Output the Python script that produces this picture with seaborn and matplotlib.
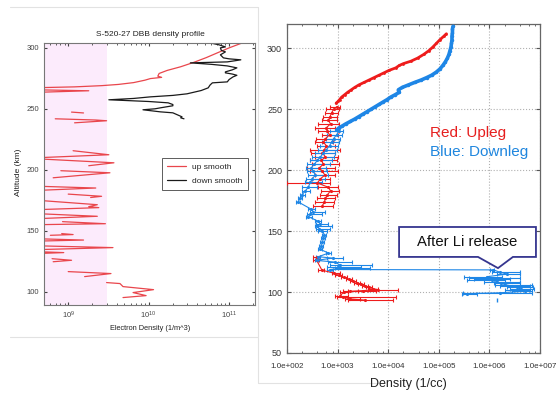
import numpy as np
import pandas as pd
import matplotlib
matplotlib.use("Agg")
import matplotlib.pyplot as plt
import seaborn as sns
from matplotlib.patches import Polygon
from matplotlib.lines import Line2D
from matplotlib.ticker import FixedLocator, FixedFormatter, LogLocator, NullFormatter

nan = np.nan

# -----------------------------
# LEFT PANEL DATA (electron density, 1/m^3)
# -----------------------------
up_alt = [306.0, 304.0, 300.0, 296.0, 292.0, 288.0, 284.5, 281.5, 279.0, 276.8,
          275.8, 274.8, 273.5, 271.5, 270.0, 269.0, 268.0, 267.3, 265.6, 264.8,
          263.5, nan,
          247.3, 246.6, nan,
          241.8, 240.8, 240.2, 238.5, nan,
          215.6, 212.3, 209.8, 209.0, 205.7, 203.3, nan,
          199.2, 197.5, 193.4, nan,
          186.5, 185.0, 183.0, nan,
          180.0, 178.2, 177.2, nan,
          175.0, 171.3, 169.7, 168.9, 167.2, 164.0, 161.8, 159.8, nan,
          157.4, 155.7, 154.9, nan,
          147.6, 146.8, 146.2, nan,
          143.4, 142.3, 141.4, 137.6, 136.1, 134.4, 132.8, 132.0, 131.2, nan,
          127.0, 125.7, 124.5, nan,
          116.4, 114.8, 112.3, nan,
          107.4, 106.6, 104.1, 101.6, 99.2, 96.7, 95.1]
up_dens = [1.9e11, 1.45e11, 1.0e11, 7.2e10, 5.2e10, 3.6e10, 2.5e10, 1.7e10, 1.35e10, 1.3e10,
           1.45e10, 1.05e10, 9.0e9, 6.5e9, 4.2e9, 2.6e9, 1.2e9, 4.0e8, 4.0e8, 1.8e9,
           4.0e8, nan,
           1.1e9, 1.55e9, nan,
           6.9e8, 2.2e9, 3.0e9, 1.2e9, nan,
           1.15e9, 3.2e9, 4.0e8, 4.0e8, 3.7e9, 1.8e9, nan,
           8.1e8, 3.3e9, 6.5e8, nan,
           4.0e8, 2.2e9, 4.0e8, nan,
           1.0e9, 2.6e9, 1.9e9, nan,
           4.0e8, 2.3e9, 1.8e9, 2.4e9, 4.0e8, 4.0e8, 2.3e9, 4.0e8, nan,
           8.5e8, 2.9e9, 4.0e8, nan,
           8.3e8, 1.15e9, 6.0e8, nan,
           4.0e8, 1.55e9, 4.0e8, 4.0e8, 3.6e9, 4.0e8, 4.0e8, 8.8e8, 4.0e8, nan,
           6.3e8, 1.1e9, 6.5e8, nan,
           1.0e9, 3.4e9, 1.6e9, nan,
           3.0e9, 4.4e9, 4.8e9, 1.15e10, 6.4e9, 9.3e9, 4.8e9]

down_alt = [241.8, 242.6, 243.4, 245.5, 246.7, 247.5, 249.2, 250.0, 250.8, 252.5,
            253.5, 254.9, 256.0, 257.4, 258.5, 259.8, 261.0, 262.3, 265.0, 267.2,
            269.5, 271.3, 272.1, 274.0, 276.2, 277.5, 278.5, 279.5, 280.3, 282.0,
            283.6, 285.2, 286.5, 287.7, 288.5, 289.5, 290.2, 291.0, 291.8, 294.3,
            296.7, 298.0, 300.0, 300.8, 302.5, 304.1, 305.0]
down_dens = [2.75e10, 2.5e10, 2.6e10, 2.2e10, 2.0e10, 1.4e10, 8.5e9, 1.2e10, 1.4e10, 2.0e10,
             2.0e10, 1.75e10, 1.0e10, 3.2e9, 6.5e9, 1.05e10, 2.0e10, 3.0e10, 4.5e10, 5.5e10,
             5.8e10, 6.2e10, 9.5e10, 1.0e11, 1.12e11, 1.25e11, 1.1e11, 9.0e10, 9.0e10, 1.1e11,
             1.25e11, 9.5e10, 6.0e10, 3.3e10, 9.5e10, 1.2e11, 1.4e11, 1.0e11, 8.5e10, 7.8e10,
             9.0e10, 8.0e10, 7.8e10, 9.0e10, 7.5e10, 5.8e10, 5.5e10]

shade_edge = 3.0e9

# -----------------------------
# RIGHT PANEL DATA (log10 density, 1/cc)
# -----------------------------
# upleg, dense upper part
up_top_alt = [312, 310, 307, 304, 301, 298, 295, 292, 289.5, 287.5, 286, 284, 282, 280,
              278, 276, 274, 272, 270, 268, 266, 264, 262, 260, 258, 256.5, 255]
up_top_log = [5.15, 5.10, 5.02, 4.95, 4.88, 4.80, 4.70, 4.58, 4.45, 4.30, 4.22, 4.15, 4.02, 3.92,
              3.82, 3.72, 3.62, 3.52, 3.42, 3.34, 3.27, 3.20, 3.14, 3.08, 3.04, 3.01, 2.97]
# upleg, points with error bars (alt, log, low, high)
up_mid_alt = [252, 250, 247, 244, 241, 238, 235, 232, 229, 226, 223, 220, 217, 214, 211, 208,
              205, 202, 199, 196, 193, 189.5, 186, 183, 180, 177, 174, 171]
up_mid_log = [2.98, 2.92, 2.88, 2.85, 2.82, 2.86, 2.78, 2.80, 2.84, 2.76, 2.72, 2.78, 2.74, 2.70,
              2.76, 2.68, 2.72, 2.64, 2.70, 2.75, 2.66, 2.60, 2.82, 2.86, 2.80, 2.76, 2.74, 2.70]
up_mid_lo = [2.85, 2.78, 2.75, 2.72, 2.70, 2.62, 2.55, 2.62, 2.70, 2.58, 2.55, 2.60, 2.45, 2.48,
             2.55, 2.45, 2.50, 2.40, 2.45, 2.55, 2.50, 2.00, 2.62, 2.68, 2.65, 2.60, 2.55, 2.52]
up_mid_hi = [3.05, 3.02, 3.00, 2.98, 2.98, 3.02, 2.95, 3.02, 3.00, 2.92, 2.90, 2.95, 3.05, 2.95,
             3.00, 2.98, 3.02, 2.95, 3.00, 2.95, 2.85, 2.85, 3.00, 3.02, 2.98, 2.95, 2.92, 2.90]
up_low_alt = [128.5, 126.5, 118, 115.6, 113.8, 112.0, 110.6, 109.2, 107.8, 106.4, 105.0, 103.8,
              102.8, 102.0, 101.2, 100.6, 100.0, 97.0, 95.8, 94.4, 93.4]
up_low_log = [2.60, 2.58, 2.69, 2.92, 3.02, 3.12, 3.22, 3.30, 3.38, 3.46, 3.54, 3.62,
              3.70, 3.80, 3.50, 3.25, 3.12, 3.05, 3.10, 3.25, 3.55]
up_low_lo = [2.52, 2.52, 2.62, 2.88, 2.95, 3.06, 3.16, 3.24, 3.32, 3.40, 3.48, 3.56,
             3.60, 3.60, 3.20, 3.10, 3.05, 2.95, 2.98, 3.15, 3.20]
up_low_hi = [2.66, 2.64, 2.74, 3.05, 3.08, 3.18, 3.28, 3.36, 3.44, 3.52, 3.60, 3.68,
             3.80, 4.20, 3.75, 3.40, 3.20, 3.20, 4.15, 3.45, 4.10]

# downleg, dense upper part
dn_top_alt = [318, 316, 313, 310, 307, 304, 301, 298, 295, 292, 289, 286, 283, 280.5, 278, 276,
              274, 272, 270, 268, 266, 264, 262, 260, 258, 256, 254, 252, 250, 248, 246, 244,
              242, 240, 238, 236, 234.5, 233]
dn_top_log = [5.28, 5.27, 5.27, 5.26, 5.26, 5.25, 5.24, 5.22, 5.20, 5.17, 5.13, 5.08, 5.02, 4.95,
              4.86, 4.76, 4.65, 4.52, 4.40, 4.28, 4.20, 4.22, 4.14, 4.05, 3.98, 3.90, 3.82, 3.74,
              3.66, 3.58, 3.50, 3.42, 3.34, 3.25, 3.16, 3.08, 3.02, 2.98]
# downleg, points with error bars
dn_err_alt = [232, 229, 226, 223, 220, 217, 214, 211, 208, 205, 202, 199, 196, 193, 190, 186,
              183, 180, 177, 174, 168, 166, 164, 162, 158, 156, 154, 152, 150, 147, 144, 141,
              138, 135, 132, 129, 127.9, 126, 124.6, 122.1, 120.5, 119.7, 118.5,
              118.2, 116.4, 114.8, 112.6, 111.6, 110.6, 109.6, 108.6, 107.4, 106.2, 104.8,
              103.8, 102.6, 101.6, 100.6, 99.4, 98.8]
dn_err_log = [3.02, 2.98, 2.92, 2.88, 2.84, 2.78, 2.72, 2.66, 2.60, 2.54, 2.48, 2.52, 2.56, 2.50,
              2.46, 2.42, 2.36, 2.30, 2.26, 2.22, 2.48, 2.52, 2.46, 2.42, 2.62, 2.66, 2.60, 2.64,
              2.70, 2.74, 2.72, 2.70, 2.68, 2.66, 2.82, 2.62, 2.90, 2.58, 2.95, 3.05, 3.00, 3.10,
              2.85,
              6.08, 6.20, 6.35, 5.95, 6.02, 6.10, 6.05, 6.15, 6.22, 6.30, 6.45, 6.55, 6.62, 6.50,
              6.70, 6.20, 5.55]
dn_err_lo = [2.85, 2.80, 2.78, 2.70, 2.66, 2.62, 2.55, 2.50, 2.45, 2.40, 2.38, 2.40, 2.42, 2.38,
             2.35, 2.30, 2.30, 2.26, 2.22, 2.18, 2.42, 2.45, 2.40, 2.38, 2.56, 2.58, 2.55, 2.58,
             2.62, 2.70, 2.68, 2.66, 2.64, 2.62, 2.78, 2.58, 2.79, 2.55, 2.81, 2.85, 2.79, 2.95,
             2.80,
             6.02, 6.05, 6.15, 5.50, 5.60, 5.70, 5.55, 5.90, 6.10, 6.12, 6.20, 6.35, 6.40, 6.30,
             6.45, 5.48, 5.45]
dn_err_hi = [3.10, 3.08, 3.05, 3.02, 3.00, 2.98, 2.95, 2.92, 2.88, 2.85, 2.78, 2.80, 2.82, 2.75,
             2.70, 2.60, 2.45, 2.36, 2.30, 2.26, 2.55, 2.75, 2.70, 2.50, 2.68, 2.82, 2.88, 2.84,
             2.80, 2.78, 2.76, 2.74, 2.72, 2.70, 2.86, 2.66, 3.11, 2.62, 3.28, 3.68, 3.46, 3.64,
             2.90,
             6.10, 6.60, 6.60, 6.25, 6.60, 6.40, 6.30, 6.60, 6.60, 6.85, 6.80, 6.86, 6.88, 6.80,
             6.85, 6.84, 5.75]
# downleg, lone lowest point
dn_lone_alt = [93.4]
dn_lone_log = [6.15]

right_xticks = [1e2, 1e3, 1e4, 1e5, 1e6, 1e7]
right_xticklabels = ["1.0e+002", "1.0e+003", "1.0e+004", "1.0e+005", "1.0e+006", "1.0e+007"]
right_yticks = [50, 100, 150, 200, 250, 300]

# -----------------------------
# STYLE
# -----------------------------
sns.set_style("ticks")
plt.rcParams["font.family"] = ["Liberation Sans", "DejaVu Sans"]

RED_L = "#e9464c"
RED = "#ee1c1c"
BLUE = "#1e86e6"

fig = plt.figure(figsize=(5.58, 3.93), dpi=100)
axL = fig.add_axes([44 / 558, 1 - 305 / 393, 211 / 558, 262 / 393])
axR = fig.add_axes([287 / 558, 1 - 353 / 393, 253 / 558, 329 / 393])

# -----------------------------
# LEFT PANEL
# -----------------------------
axL.set_xscale("log")
axL.set_xlim(5e8, 2.1e11)
axL.set_ylim(89, 304)
axL.axvspan(5e8, shade_edge, color="#fcebfc", lw=0, zorder=0)

df_up = pd.DataFrame({"alt": up_alt, "dens": up_dens})
df_up["seg"] = df_up["dens"].isna().cumsum()
df_up = df_up.dropna()
sns.lineplot(data=df_up, x="dens", y="alt", units="seg", estimator=None, sort=False,
             color=RED_L, lw=0.9, ax=axL)

df_dn = pd.DataFrame({"alt": down_alt, "dens": down_dens})
sns.lineplot(data=df_dn, x="dens", y="alt", estimator=None, sort=False,
             color="#1a1a1a", lw=0.9, ax=axL)

axL.set_yticks([100, 150, 200, 250, 300])
axL.tick_params(which="both", direction="in", top=True, right=True, labelsize=5.5,
                colors="#444", length=2.5)
axL.tick_params(which="minor", length=1.5)
axL.set_xlabel("")
axL.set_ylabel("")
for s in axL.spines.values():
    s.set_color("#777")
    s.set_linewidth(0.8)

handles = [Line2D([], [], color=RED_L, lw=0.9), Line2D([], [], color="#1a1a1a", lw=0.9)]
leg = axL.legend(handles, ["up smooth", "down smooth"], loc="center right",
                 bbox_to_anchor=(0.985, 0.5), fontsize=6, frameon=True, fancybox=False,
                 handlelength=2.2, borderpad=0.6, labelspacing=0.8)
leg.get_frame().set_edgecolor("#333")
leg.get_frame().set_linewidth(0.7)

fig.text(150 / 558, 1 - 34 / 393, "S-520-27 DBB density profile", ha="center", va="center",
         fontsize=6, color="#222")
fig.text(150 / 558, 1 - 328 / 393, "Electron Density (1/m^3)", ha="center", va="center",
         fontsize=5.3, color="#222")
fig.text(19 / 558, 1 - 172 / 393, "Altitude (km)", ha="center", va="center",
         rotation=90, fontsize=6, color="#222")

# -----------------------------
# RIGHT PANEL
# -----------------------------
axR.set_xscale("log")
axR.set_xlim(1e2, 1e7)
axR.set_ylim(50, 320)
axR.grid(True, which="major", ls=":", color="#b0b0b0", lw=0.8)


def errbar(ax, alt, lg, lo, hi, color, lw=0.8):
    x = 10 ** np.array(lg)
    xerr = [x - 10 ** np.array(lo), 10 ** np.array(hi) - x]
    ax.errorbar(x, alt, xerr=xerr, fmt="-", marker=".", ms=2.5, color=color, lw=lw,
                elinewidth=0.8, capsize=1.5, capthick=0.8, zorder=3)


sns.lineplot(x=10 ** np.array(up_top_log), y=up_top_alt, sort=False, estimator=None,
             color=RED, lw=2.0, marker=".", ms=4, mew=0, ax=axR, zorder=4)
errbar(axR, up_mid_alt, up_mid_log, up_mid_lo, up_mid_hi, RED)
errbar(axR, up_low_alt, up_low_log, up_low_lo, up_low_hi, RED)

sns.lineplot(x=10 ** np.array(dn_top_log), y=dn_top_alt, sort=False, estimator=None,
             color=BLUE, lw=2.6, marker=".", ms=5, mew=0, ax=axR, zorder=3)
errbar(axR, dn_err_alt, dn_err_log, dn_err_lo, dn_err_hi, BLUE)
sns.scatterplot(x=10 ** np.array(dn_lone_log), y=dn_lone_alt, color=BLUE, marker="|",
                s=12, linewidth=1, ax=axR)

axR.xaxis.set_major_locator(FixedLocator(right_xticks))
axR.xaxis.set_major_formatter(FixedFormatter(right_xticklabels))
axR.xaxis.set_minor_locator(LogLocator(base=10, subs=(2, 4, 6, 8), numticks=20))
axR.xaxis.set_minor_formatter(NullFormatter())
axR.set_yticks(right_yticks)
axR.tick_params(which="both", direction="in", top=True, right=True, colors="#555", length=3)
axR.tick_params(which="minor", length=1.5)
axR.tick_params(axis="x", labelsize=5.8, labelcolor="#333", pad=7)
axR.tick_params(axis="y", labelsize=6.5, labelcolor="#333")
for s in axR.spines.values():
    s.set_color("#666")
    s.set_linewidth(0.9)

fig.text(430 / 558, 1 - 133 / 393, "Red: Upleg", color="#e61e1e", fontsize=11,
         ha="left", va="center")
fig.text(430 / 558, 1 - 152 / 393, "Blue: Downleg", color="#1f86de", fontsize=11,
         ha="left", va="center")

# callout box
callout = [(0.443, 0.383), (0.984, 0.383), (0.984, 0.292), (0.893, 0.292), (0.834, 0.258),
           (0.755, 0.292), (0.443, 0.292)]
axR.add_patch(Polygon(callout, closed=True, transform=axR.transAxes, facecolor="white",
                      edgecolor="#35358f", lw=1.3, zorder=6))
axR.text(0.71, 0.338, "After Li release", transform=axR.transAxes, ha="center",
         va="center", fontsize=10.7, color="#111", zorder=7)

fig.text(408 / 558, 1 - 384 / 393, "Density (1/cc)", ha="center", va="center",
         fontsize=9, color="#222")

# faint frame lines from the pasted images
for (x0, y0, x1, y1) in [(10, 7, 258, 7), (10, 337, 258, 337), (258, 7, 258, 383),
                         (258, 383, 380, 383)]:
    fig.add_artist(Line2D([x0 / 558, x1 / 558], [1 - y0 / 393, 1 - y1 / 393],
                          color="#e2e2e2", lw=0.8))

fig.savefig("out.png", dpi=100)
